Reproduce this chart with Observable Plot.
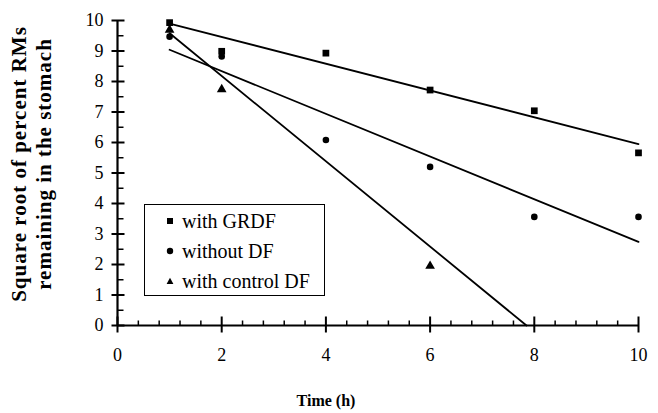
<!DOCTYPE html>
<html>
<head>
<meta charset="utf-8">
<script src="https://cdn.jsdelivr.net/npm/d3@7"></script>
<script src="https://cdn.jsdelivr.net/npm/@observablehq/plot@0.6"></script>
<style>
  body { margin: 0; background: #fff; }
  #wrap { position: relative; width: 658px; height: 413px; }
  #legend {
    position: absolute; left: 144px; top: 204px; width: 179px; height: 90px;
    border: 1.5px solid #000; background: #fff;
    font-family: "Liberation Serif", "Times New Roman", serif; font-size: 20px; color: #000;
  }
  .item { position: absolute; left: 0; height: 30px; line-height: 30px; white-space: nowrap; }
  .item svg { position: absolute; left: 21px; top: 11px; }
  .item span { position: absolute; left: 37px; top: 0; }
</style>
</head>
<body>
<div id="wrap"></div>
<script>
// ---- data ----
const seriesNames = ["with GRDF", "without DF", "with control DF"];
const timesGRDF = [1, 2, 4, 6, 8, 10];
const valuesGRDF = [9.93, 8.99, 8.93, 7.72, 7.04, 5.66];
const timesWithout = [1, 2, 4, 6, 8, 10];
const valuesWithout = [9.47, 8.82, 6.08, 5.20, 3.56, 3.56];
const timesControl = [1, 2, 6];
const valuesControl = [9.69, 7.74, 1.95];

// fitted straight lines (end points)
const fitGRDFX = [1, 10];
const fitGRDFY = [9.9, 5.95];
const fitWithoutX = [1, 10];
const fitWithoutY = [9.04, 2.74];
const fitControlX = [1, 7.85];
const fitControlY = [9.58, 0];

// axes
const xTicks = [0, 2, 4, 6, 8, 10];
const yTicks = [0, 1, 2, 3, 4, 5, 6, 7, 8, 9, 10];
const xMinorTicks = [0.4, 0.8, 1.2, 1.6, 2.4, 2.8, 3.2, 3.6, 4.4, 4.8, 5.2, 5.6, 6.4, 6.8, 7.2, 7.6, 8.4, 8.8, 9.2, 9.6];
const yMinorTicks = [0.5, 1.5, 2.5, 3.5, 4.5, 5.5, 6.5, 7.5, 8.5, 9.5];
const xTitle = "Time (h)";
const yTitleLines = ["Square root of percent RMs", "remaining in the stomach"];

// ---- layout ----
const W = 658, H = 413, mL = 117, mR = 20, mT = 20, mB = 88;
const pxX = (W - mL - mR) / 10;   // pixels per x unit
const pxY = (H - mT - mB) / 10;   // pixels per y unit

// ---- build tables ----
const pts = (xs, ys, s) => xs.map((x, i) => ({time: x, value: ys[i], series: s}));
const ptsGRDF = pts(timesGRDF, valuesGRDF, seriesNames[0]);
const ptsWithout = pts(timesWithout, valuesWithout, seriesNames[1]);
const ptsControl = pts(timesControl, valuesControl, seriesNames[2]);
const fits = [
  ...pts(fitGRDFX, fitGRDFY, seriesNames[0]),
  ...pts(fitWithoutX, fitWithoutY, seriesNames[1]),
  ...pts(fitControlX, fitControlY, seriesNames[2])
];
// tick segments (tick value + extent across the axis, converted to data units)
const xMajorSeg = xTicks.map(v => ({v, a: -7 / pxY, b: 9 / pxY}));
const xMinorSeg = xMinorTicks.map(v => ({v, a: 0, b: 5 / pxY}));
const yMajorSeg = yTicks.map(v => ({v, a: -6 / pxX, b: 7 / pxX}));
const yMinorSeg = yMinorTicks.map(v => ({v, a: 0, b: 6 / pxX}));

const chart = Plot.plot({
  width: W,
  height: H,
  marginLeft: mL,
  marginRight: mR,
  marginTop: mT,
  marginBottom: mB,
  style: {fontFamily: '"Liberation Serif", "Times New Roman", serif', fontSize: "18px", color: "#000", background: "#fff", overflow: "visible"},
  x: {domain: [0, 10], label: null},
  y: {domain: [0, 10], label: null},
  marks: [
    Plot.line(fits, {x: "time", y: "value", z: "series", stroke: "#000", strokeWidth: 1.8}),
    Plot.dot(ptsGRDF, {x: "time", y: "value", symbol: "square", r: 3.8, fill: "#000", stroke: "none"}),
    Plot.dot(ptsWithout, {x: "time", y: "value", symbol: "circle", r: 3.3, fill: "#000", stroke: "none"}),
    Plot.dot(ptsControl, {x: "time", y: "value", symbol: "triangle", r: 3.6, fill: "#000", stroke: "none"}),
    // axis lines
    Plot.ruleY([0], {x1: 0, x2: 10, stroke: "#000", strokeWidth: 2.2}),
    Plot.ruleX([0], {y1: 0, y2: 10, stroke: "#000", strokeWidth: 2.2}),
    // x ticks: major cross the axis, minor point inward
    Plot.link(xMajorSeg, {x1: "v", x2: "v", y1: "a", y2: "b", stroke: "#000", strokeWidth: 2}),
    Plot.link(xMinorSeg, {x1: "v", x2: "v", y1: "a", y2: "b", stroke: "#000", strokeWidth: 1.5}),
    // y ticks
    Plot.link(yMajorSeg, {y1: "v", y2: "v", x1: "a", x2: "b", stroke: "#000", strokeWidth: 2}),
    Plot.link(yMinorSeg, {y1: "v", y2: "v", x1: "a", x2: "b", stroke: "#000", strokeWidth: 1.5}),
    // tick labels
    Plot.axisX(xTicks, {tickSize: 0, tickPadding: 23, label: null, tickFormat: d => String(d)}),
    Plot.axisY(yTicks, {tickSize: 0, tickPadding: 14, label: null, tickFormat: d => String(d)}),
    // titles
    Plot.text([yTitleLines.join("\n")], {
      text: d => d, frameAnchor: "left", rotate: -90, dx: -87, dy: -9,
      lineHeight: 1.2, fontWeight: "bold", fontSize: 21, textAnchor: "middle", lineAnchor: "middle"
    }),
    Plot.text([xTitle], {
      text: d => d, frameAnchor: "bottom", dx: -52, dy: 75,
      fontWeight: "bold", fontSize: 16, textAnchor: "middle", lineAnchor: "middle"
    })
  ]
});

d3.select(chart).selectAll("text").filter(function () {
  return this.textContent.startsWith("Square");
}).attr("letter-spacing", "1px");

const wrap = document.getElementById("wrap");
wrap.appendChild(chart);

// legend (HTML, drawn over the plot)
const legend = document.createElement("div");
legend.id = "legend";
const shapes = [
  '<rect x="1" y="1" width="6" height="6" fill="#000"/>',
  '<circle cx="4" cy="4" r="3.2" fill="#000"/>',
  '<path d="M4 0.8 L7.4 7 L0.6 7 Z" fill="#000"/>'
];
seriesNames.forEach((name, i) => {
  const it = document.createElement("div");
  it.className = "item";
  it.style.top = (1 + i * 30) + "px";
  it.innerHTML = `<svg width="8" height="8" viewBox="0 0 8 8">${shapes[i]}</svg><span>${name}</span>`;
  legend.appendChild(it);
});
wrap.appendChild(legend);
</script>
</body>
</html>
